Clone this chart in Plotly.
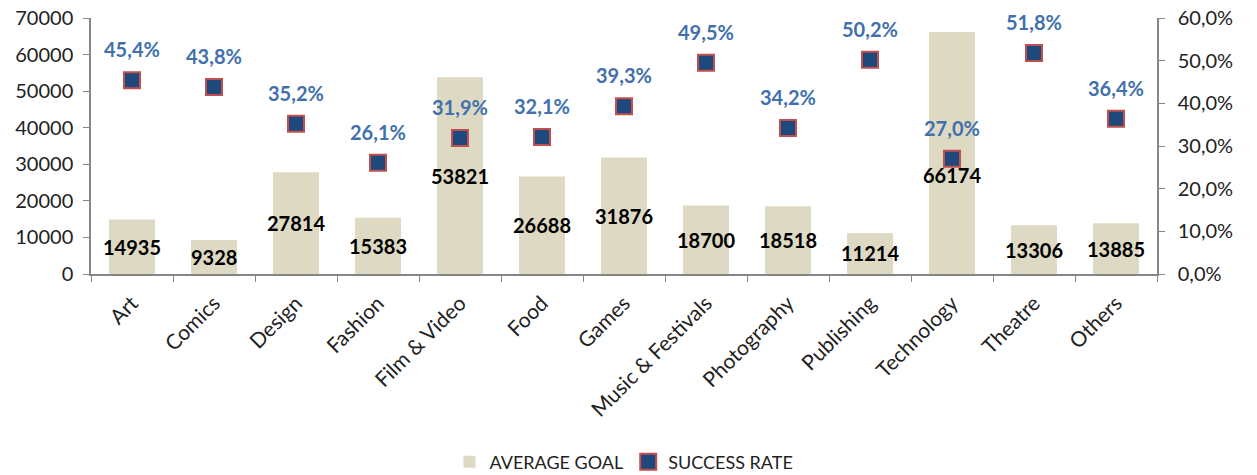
import plotly.graph_objects as go

categories = ["Art", "Comics", "Design", "Fashion", "Film & Video", "Food", "Games",
              "Music & Festivals", "Photography", "Publishing", "Technology", "Theatre", "Others"]
average_goal = [14935, 9328, 27814, 15383, 53821, 26688, 31876, 18700, 18518, 11214, 66174, 13306, 13885]
success_rate = [0.454, 0.438, 0.352, 0.261, 0.319, 0.321, 0.393, 0.495, 0.342, 0.502, 0.270, 0.518, 0.364]

FONT = "Lato"
AXIS_COLOR = "#868686"

fig = go.Figure()
fig.add_trace(go.Bar(
    x=categories, y=average_goal, name="AVERAGE GOAL",
    marker=dict(color="#DDD9C3", line=dict(width=0)),
    width=0.56,
))
fig.add_trace(go.Scatter(
    x=categories, y=success_rate, name="SUCCESS RATE", yaxis="y2",
    mode="markers",
    marker=dict(symbol="square", size=16, color="#1F497D", line=dict(color="#C0504D", width=2)),
    cliponaxis=False,
))

annotations = []
for cat, goal, rate in zip(categories, average_goal, success_rate):
    # bar value label, centred in the bar (moved below the marker where they would collide)
    annotations.append(dict(
        x=cat, y=goal / 2, xref="x", yref="y", text=f"{goal:d}", showarrow=False,
        yshift=-22 if cat == "Technology" else 0,
        font=dict(family=FONT, size=20, color="black", weight="bold"),
    ))
    # success rate label above the marker
    annotations.append(dict(
        x=cat, y=rate, xref="x", yref="y2",
        text=f"{rate * 100:.1f}%".replace(".", ","), showarrow=False, yshift=31,
        font=dict(family=FONT, size=20, color="#4170AD", weight="bold"),
    ))

fig.update_layout(
    width=1257, height=475,
    margin=dict(l=91, r=100, t=18, b=201, autoexpand=False),
    plot_bgcolor="white", paper_bgcolor="white",
    separators=", ",
    font=dict(family=FONT, size=20, color="#222222"),
    showlegend=True,
    annotations=annotations,
    legend=dict(orientation="h", x=0.5, xanchor="center", xref="paper",
                y=13 / 475, yanchor="middle", yref="container",
                font=dict(family=FONT, size=18, color="#222222"), traceorder="normal",
                itemwidth=30),
    xaxis=dict(
        range=[-0.5, len(categories) - 0.5],
        showline=True, linecolor=AXIS_COLOR, linewidth=1.5,
        ticks="outside", tickcolor=AXIS_COLOR, ticklen=6, tickson="boundaries",
        tickangle=-45, ticklabelstandoff=7,
        tickfont=dict(family=FONT, size=21, color="#222222"),
        showgrid=False, automargin=False,
    ),
    yaxis=dict(
        range=[0, 70000], dtick=10000, tickformat="d",
        showline=True, linecolor=AXIS_COLOR, linewidth=1.5,
        ticks="outside", tickcolor=AXIS_COLOR, ticklen=6, ticklabelstandoff=6,
        showgrid=False, zeroline=False, automargin=False,
        tickfont=dict(family=FONT, size=20, color="#222222"),
    ),
    yaxis2=dict(
        range=[0, 0.6], dtick=0.1, tickformat=".1%",
        overlaying="y", side="right",
        showline=True, linecolor=AXIS_COLOR, linewidth=1.5,
        ticks="outside", tickcolor=AXIS_COLOR, ticklen=6, ticklabelstandoff=9,
        showgrid=False, zeroline=False, automargin=False,
        tickfont=dict(family=FONT, size=20, color="#222222"),
    ),
)

fig.write_html("out.html")
